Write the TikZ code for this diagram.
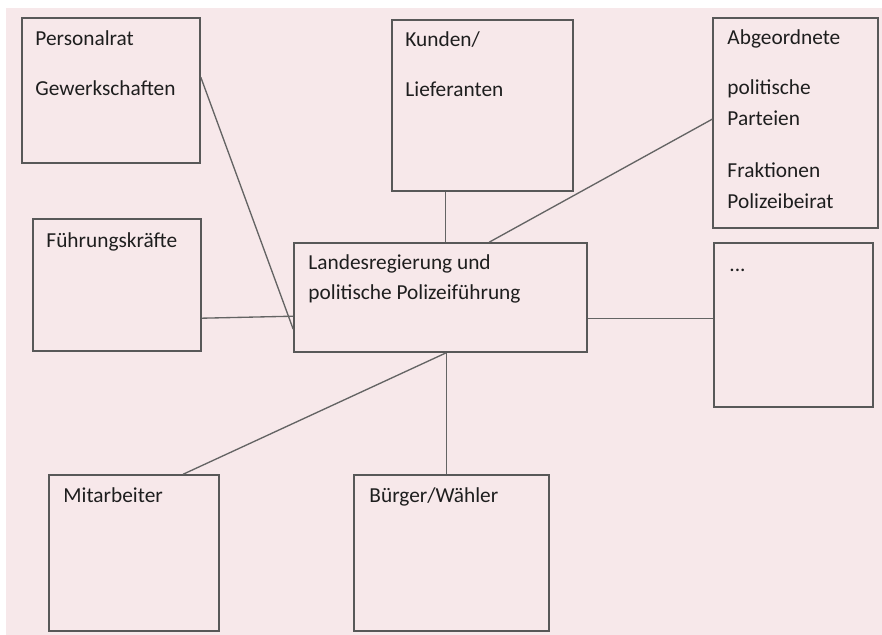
\documentclass[tikz,border=0pt]{standalone}
\usepackage{fontspec}
\setmainfont{Carlito}
\definecolor{BgPink}{RGB}{247,232,234}
\definecolor{EdgeGrey}{RGB}{88,88,88}
\definecolor{LinkGrey}{RGB}{100,100,100}
\definecolor{InkDark}{RGB}{30,30,30}
\usetikzlibrary{
    positioning,
    calc,
    fit,
}

\tikzset{
    box/.style={draw=EdgeGrey, line width=1.2pt, rectangle, inner sep=0pt},
    txt/.style={anchor=north west, inner sep=0pt, align=left, text=InkDark,
        font=\fontsize{16}{23}\selectfont,
        execute at begin node=\rule{0pt}{13pt}},
    link/.style={draw=LinkGrey, line width=1pt},
}

\begin{document}
\begin{tikzpicture}[x=0.75pt, y=-0.75pt]
        \useasboundingbox (0,0) rectangle (882,635);
        \fill[BgPink] (6,8) rectangle (882,635);
        % Kaesten
        \node[box, fit={(22,18) (200,163)}] (pers) {};
        \node[box, fit={(392,20) (573,191)}] (kund) {};
        \node[box, fit={(713,18) (878,228)}] (abg) {};
        \node[box, fit={(33,219) (201,351)}] (fuehr) {};
        \node[box, fit={(294,243) (587,352)}] (land) {};
        \node[box, fit={(714,243) (873,407)}] (etc) {};
        \node[box, fit={(49,475) (219,631)}] (mit) {};
        \node[box, fit={(354,475) (549,631)}] (buerg) {};
        % Beschriftungen (Oberkante = Grundlinie - 17)
        \node[txt] (persT) at ($(pers.north west)+(14,13)$) {Personalrat\\[15pt]Gewerkschaften};
        \node[txt] (kundT) at ($(kund.north west)+(14,12)$) {Kunden/\\[15pt]Lieferanten};
        \node[txt] (abgT) at ($(abg.north west)+(15,12)$) {Abgeordnete\\[15pt]politische\\Parteien\\[16pt]Fraktionen\\Polizeibeirat};
        \node[txt] (fuehrT) at ($(fuehr.north west)+(14,12)$) {Führungskräfte};
        \node[txt] (landT) at ($(land.north west)+(15,12)$) {Landesregierung und\\politische Polizeiführung};
        \node[txt] (etcT) at ($(etc.north west)+(16,12)$) {...};
        \node[txt] (mitT) at ($(mit.north west)+(15,11)$) {Mitarbeiter};
        \node[txt] (buergT) at ($(buerg.north west)+(16,11)$) {Bürger/Wähler};
        % Verbindungen
        \coordinate (landS) at ($(land.south west)+(153,0)$);
        \coordinate (landE) at ($(land.north east)+(0,76)$);
        \coordinate (kundS) at ($(kund.south west)+(54,0)$);
        \draw[link] ($(pers.north east)+(0,60)$) -- ($(land.north west)+(0,87)$);
        \draw[link] ($(fuehr.north east)+(0,100)$) -- ($(land.north west)+(0,74)$);
        \draw[link] (kundS) -- (kundS |- land.north);
        \draw[link] ($(abg.north west)+(0,102)$) -- ($(land.north west)+(196,0)$);
        \draw[link] (landE) -- (landE -| etc.west);
        \draw[link] (landS) -- (landS |- buerg.north);
        \draw[link] (landS) -- ($(mit.north west)+(135,0)$);
    \end{tikzpicture}
\end{document}
